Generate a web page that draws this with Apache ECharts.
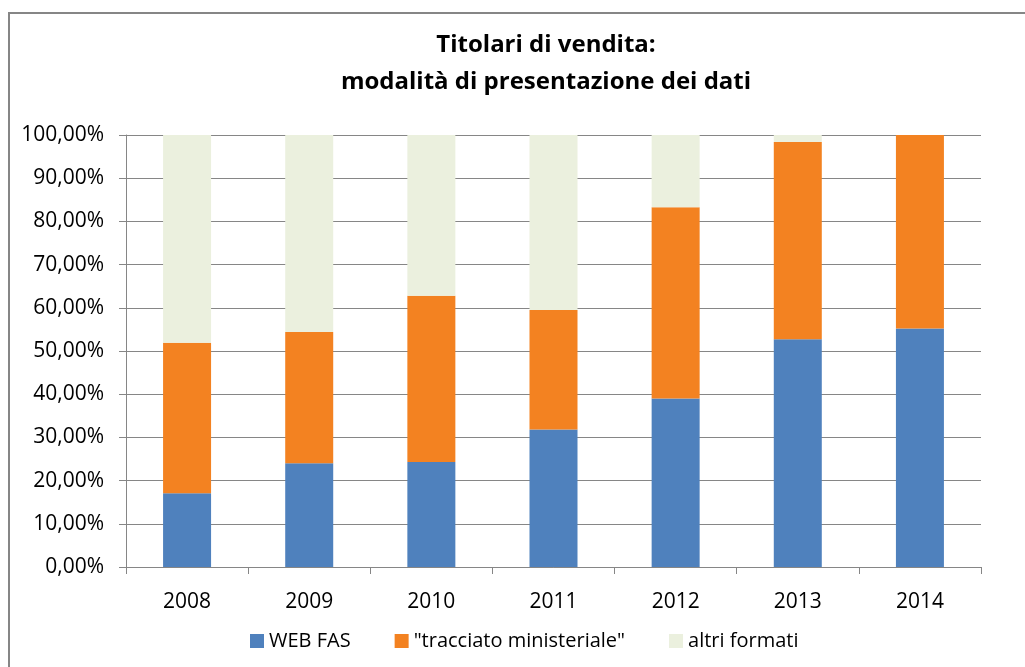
<!DOCTYPE html>
<html>
<head>
<meta charset="utf-8">
<script src="https://cdn.jsdelivr.net/npm/echarts@6/dist/echarts.min.js"></script>
<style>
html,body{margin:0;padding:0;background:#fff;}
#chart{width:1025px;height:667px;}
</style>
</head>
<body>
<div id="chart"></div>
<script>
const categories = ['2008','2009','2010','2011','2012','2013','2014'];
const webFas = [17.1, 24.0, 24.3, 31.8, 39.0, 52.7, 55.2];
const tracciato = [34.8, 30.4, 38.5, 27.7, 44.3, 45.7, 44.8];
const altri = [48.1, 45.6, 37.2, 40.5, 16.7, 1.6, 0];
const seriesNames = ['WEB FAS', '"tracciato ministeriale"', 'altri formati'];

const FONT = '"Open Sans", "Liberation Sans", sans-serif';
const chart = echarts.init(document.getElementById('chart'), null, {renderer:'canvas'});
const axisGray = '#868686';

chart.setOption({
  animation: false,
  backgroundColor: '#ffffff',
  color: ['#4F81BD', '#F38221', '#EBF0DE'],
  title: {
    text: 'Titolari di vendita:\nmodalità di presentazione dei dati',
    left: 541,
    top: 22,
    textAlign: 'center',
    textStyle: {
      fontFamily: FONT,
      fontWeight: 'bold',
      fontSize: 24,
      lineHeight: 37,
      color: '#000'
    }
  },
  graphic: [{
    type: 'rect',
    shape: {x: 9, y: 13, width: 1100, height: 800},
    style: {fill: 'none', stroke: axisGray, lineWidth: 2},
    silent: true,
    z: -1
  }],
  legend: {
    left: 245,
    top: 626,
    itemWidth: 14,
    itemHeight: 14,
    itemGap: 44,
    icon: 'rect',
    textStyle: {fontFamily: FONT, fontSize: 20, color: '#000'},
    data: seriesNames
  },
  grid: {left: 126, right: 44, top: 135, bottom: 100, containLabel: false},
  xAxis: {
    type: 'category',
    data: categories,
    boundaryGap: true,
    axisLine: {lineStyle: {color: axisGray, width: 1}},
    axisTick: {show: true, length: 7, inside: false, lineStyle: {color: axisGray}},
    axisLabel: {fontFamily: FONT, fontSize: 21, color: '#000', margin: 25}
  },
  yAxis: {
    type: 'value',
    min: 0,
    max: 100,
    interval: 10,
    axisLine: {show: true, lineStyle: {color: axisGray, width: 1}},
    axisTick: {show: true, length: 7, inside: false, lineStyle: {color: axisGray}},
    splitLine: {show: true, lineStyle: {color: axisGray, width: 1}},
    axisLabel: {
      fontFamily: FONT, fontSize: 21, color: '#000', margin: 22,
      formatter: v => v.toFixed(2).replace('.', ',') + '%'
    }
  },
  series: [
    {name: seriesNames[0], type: 'bar', stack: 'a', barWidth: 48, data: webFas},
    {name: seriesNames[1], type: 'bar', stack: 'a', barWidth: 48, data: tracciato},
    {name: seriesNames[2], type: 'bar', stack: 'a', barWidth: 48, data: altri}
  ]
});
</script>
</body>
</html>
